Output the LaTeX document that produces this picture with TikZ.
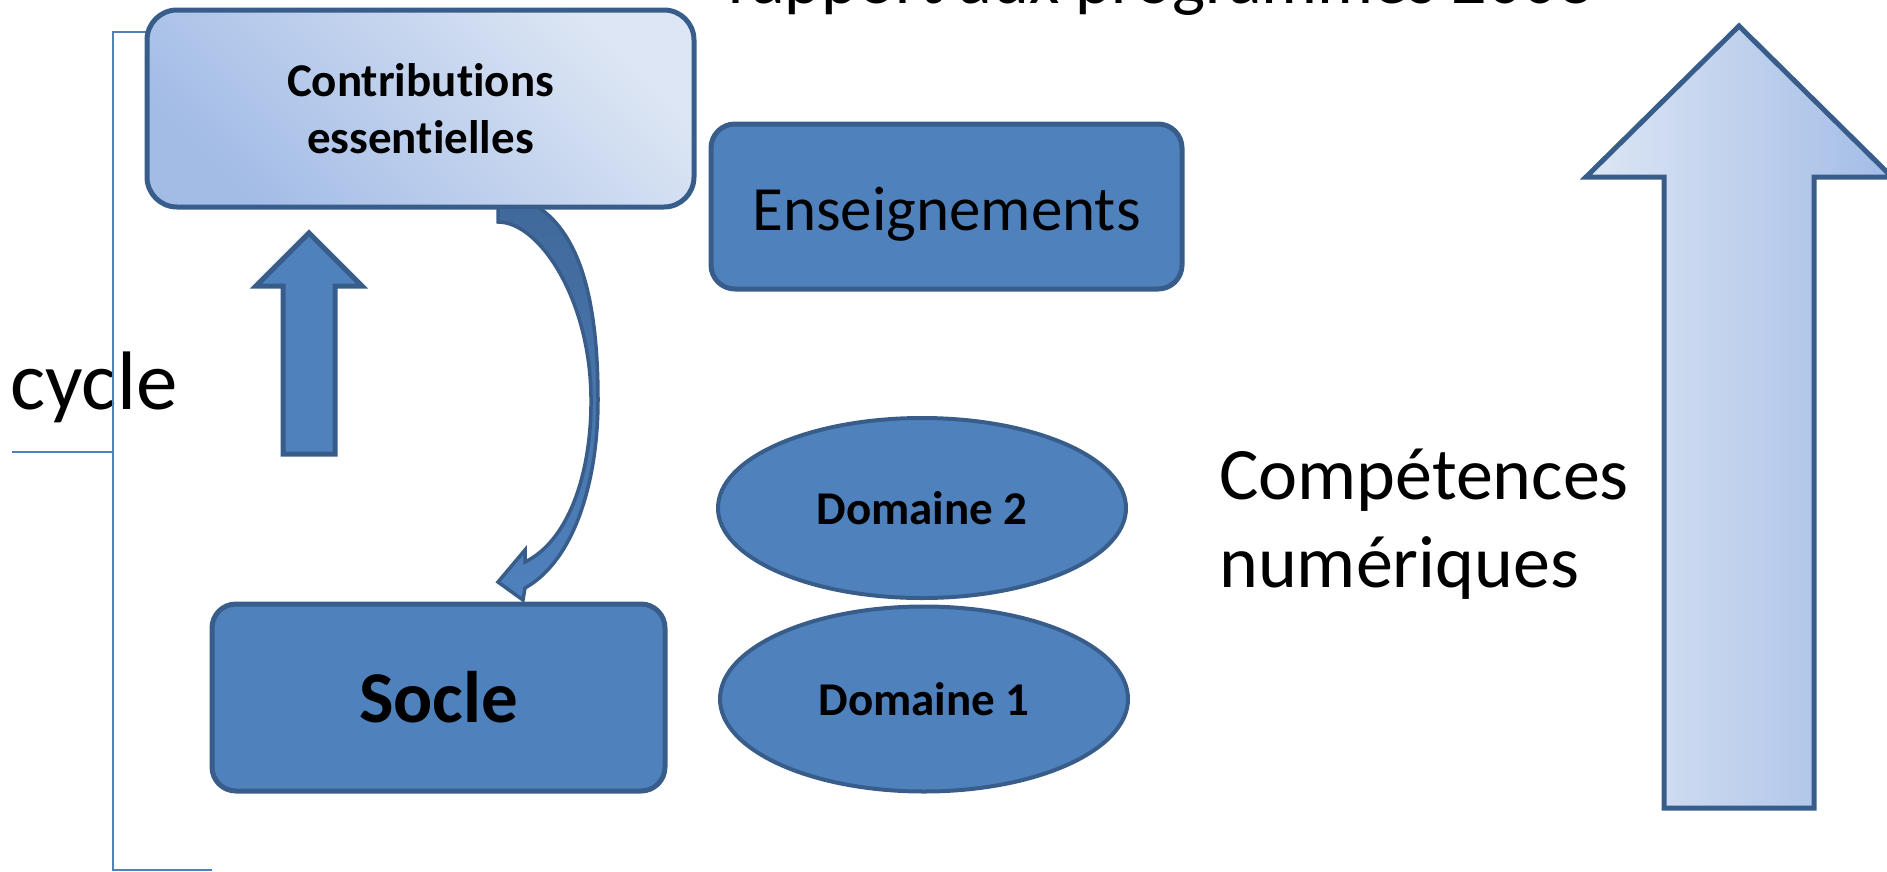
\documentclass[tikz,border=0pt]{standalone}
\usepackage{fontspec}
\setmainfont{Carlito}[Ligatures=NoCommon]
\usetikzlibrary{shapes.geometric}
\definecolor{accent}{HTML}{4F81BD}
\definecolor{edgeblue}{HTML}{385D8A}
\definecolor{darkface}{HTML}{41699B}
\definecolor{lightb}{HTML}{DDE6F4}
\definecolor{darkb}{HTML}{A3BCE6}
\begin{document}
\begin{tikzpicture}[x=1pt,y=-1pt,
  solidbox/.style={draw=edgeblue, line width=5pt, fill=accent, rounded corners=24pt, inner sep=0pt},
  lightbox/.style={draw=edgeblue, line width=5pt, top color=lightb, bottom color=darkb, shading angle=-45, rounded corners=30pt, inner sep=0pt},
  oval/.style={ellipse, draw=edgeblue, line width=4pt, fill=accent, inner sep=0pt},
  blockarrow/.style={draw=edgeblue, line width=5pt, line join=miter, fill=accent},
  bigarrow/.style={draw=edgeblue, line width=5pt, line join=miter, left color=lightb, right color=darkb},
  bracketline/.style={draw=accent, line width=2pt},
]
\useasboundingbox (0,0) rectangle (1887,871);
\clip (0,0) rectangle (1887,871);

% top title (cut off)
\node[font=\fontsize{70}{80}\selectfont, anchor=base west, inner sep=0pt] (title) at (728,3) {rapport aux programmes 2008};

% cycle label
\node[font=\fontsize{83}{90}\selectfont, anchor=base west, inner sep=0pt] (cyc) at (10,409) {cycle};

% bracket
\coordinate (btop) at (147,32);
\coordinate (bmid) at (12,452);
\coordinate (bbot) at (212,870);
\draw[bracketline] (btop) -- (113,32) -- (113,870) -- (bbot);
\draw[bracketline] (113,452) -- (bmid);

% boxes
\node[lightbox, minimum width=547pt, minimum height=197pt, align=center,
      font=\fontsize{47}{57}\selectfont\bfseries] (contrib) at (420.5,108.5) {Contributions\\essentielles};
\node[solidbox, minimum width=471pt, minimum height=165pt, text height=47pt, text depth=0pt,
      font=\fontsize{63}{70}\selectfont] (ens) at (946.5,206.5) {Enseignements};
\node[solidbox, minimum width=453pt, minimum height=187pt,
      font=\fontsize{73}{80}\selectfont\bfseries] (socle) at (438.5,697.5) {Socle};
\node[oval, minimum width=408pt, minimum height=180pt,
      font=\fontsize{47}{55}\selectfont\bfseries] (dom2) at (922,508) {Domaine 2};
\node[oval, minimum width=408pt, minimum height=185pt,
      font=\fontsize{47}{55}\selectfont\bfseries] (dom1) at (924,699) {Domaine 1};

% competences text
\node[font=\fontsize{74}{88}\selectfont, anchor=base west, align=left, inner sep=0pt] (comp) at (1219,587) {Compétences\\numériques};

% small up arrow
\draw[blockarrow] (309,233) -- (362,286) -- (335,286) -- (335,454) -- (283,454) -- (283,286) -- (256,286) -- cycle;

% curved arrow from Contributions down to Socle
\draw[draw=edgeblue, line width=3.5pt, line join=miter, top color=darkface, bottom color=accent]
  (498,207) -- (498,222)
  .. controls (540,222) and (590,300) .. (591,397)
  .. controls (592,470) and (570,540) .. (525,562)
  -- (525,550) -- (498,582) -- (523,600) -- (525,588)
  .. controls (575,560) and (598,480) .. (598,400)
  .. controls (598,300) and (580,235) .. (538,207) -- cycle;

% big arrow on the right
\draw[bigarrow] (1739,26) -- (1892,177) -- (1814,177) -- (1814,808) -- (1664,808) -- (1664,177) -- (1586,177) -- cycle;
\end{tikzpicture}
\end{document}
